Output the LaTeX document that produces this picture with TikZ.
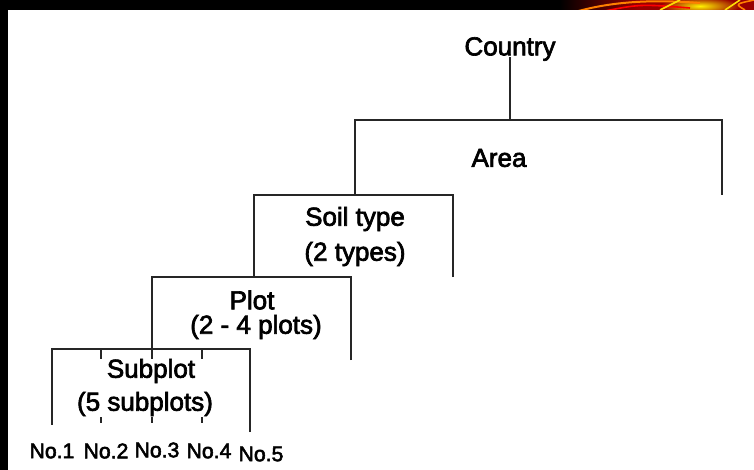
\documentclass[tikz,border=0pt]{standalone}
\usepackage{fontspec}
\setmainfont{Liberation Sans}[BoldFont=Liberation Sans, BoldFeatures={FakeBold=2.6}]
\tikzset{
  level text/.style={font=\fontsize{13}{15}\selectfont\bfseries, inner sep=1pt},
  number text/.style={font=\fontsize{10.6}{12}\selectfont\bfseries, inner sep=1pt},
  bracket/.style={draw=black!85, line width=0.65pt},
}
\begin{document}
\begin{tikzpicture}[x=0.5pt,y=-0.5pt]
    % slide frame
    \fill[black] (0,0) rectangle (754,470);
    \fill[white] (8,10) rectangle (754,470);
    \useasboundingbox (0,0) rectangle (754,470);
    % flame in the top band
    \begin{scope}
        \clip (560,0) rectangle (754,10);
        \shade[left color=black, right color=red!60!black] (560,0) rectangle (640,10);
        \fill[red!60!black] (640,0) rectangle (754,10);
        \shade[inner color=yellow!90!orange, outer color=red!60!black] (700,6) ellipse (40 and 9);
        \draw[orange, line width=1pt] (575,12) .. controls (610,2) and (650,-1) .. (700,3);
        \draw[red, line width=0.8pt] (600,12) .. controls (640,4) .. (690,8);
        \draw[yellow!80!orange, line width=0.8pt] (660,10) -- (680,0);
        \draw[yellow!80!orange, line width=0.8pt] (725,10) -- (740,0);
        \draw[orange, line width=0.8pt] (745,10) .. controls (735,4) .. (754,0);
    \end{scope}
    % level labels
    \node[level text] (country) at (510,49) {Country};
    \node[level text] (area) at (499,158) {Area};
    \node[level text] (soil) at (355,219) {Soil type};
    \node[level text] (soiln) at (355,254) {(2 types)};
    \node[level text] (plot) at (252,300) {Plot};
    \node[level text] (plotn) at (256,327) {(2 - 4 plots)};
    \node[level text] (sub) at (151,371) {Subplot};
    \node[level text] (subn) at (145,404) {(5 subplots)};
    % bracket corners
    \coordinate (areaL) at (355,120);
    \coordinate (areaR) at (722,120);
    \coordinate (areaRend) at (722,195);
    \coordinate (soilL) at (254,195);
    \coordinate (soilR) at (453,195);
    \coordinate (soilRend) at (453,277);
    \coordinate (plotL) at (152,277);
    \coordinate (plotR) at (351,277);
    \coordinate (plotRend) at (351,360);
    \coordinate (subL) at (52,349);
    \coordinate (subR) at (250,349);
    \coordinate (subLend) at (52,425);
    \coordinate (subRend) at (250,432);
    % country -> area
    \draw[bracket] ([yshift=3pt]country.south) -- (country.south |- areaL);
    \draw[bracket] (areaRend) -- (areaR) -- (areaL) -- (areaL |- soilL);
    % soil type
    \draw[bracket] (soilRend) -- (soilR) -- (soilL) -- (soilL |- plotL);
    % plot
    \draw[bracket] (plotRend) -- (plotR) -- (plotL) -- (plotL |- subL);
    % subplot
    \draw[bracket] (subRend) -- (subR) -- (subL) -- (subLend);
    \foreach \x in {101,152,202} {
        \draw[bracket] (\x,349) -- (\x,359);
        \draw[bracket] (\x,417) -- (\x,423);
    }
    % subplot numbers
    \node[number text] (no1) at (52,451) {No.1};
    \node[number text] (no2) at (106,451) {No.2};
    \node[number text] (no3) at (157,450) {No.3};
    \node[number text] (no4) at (209,451) {No.4};
    \node[number text] (no5) at (261,454) {No.5};
\end{tikzpicture}
\end{document}
